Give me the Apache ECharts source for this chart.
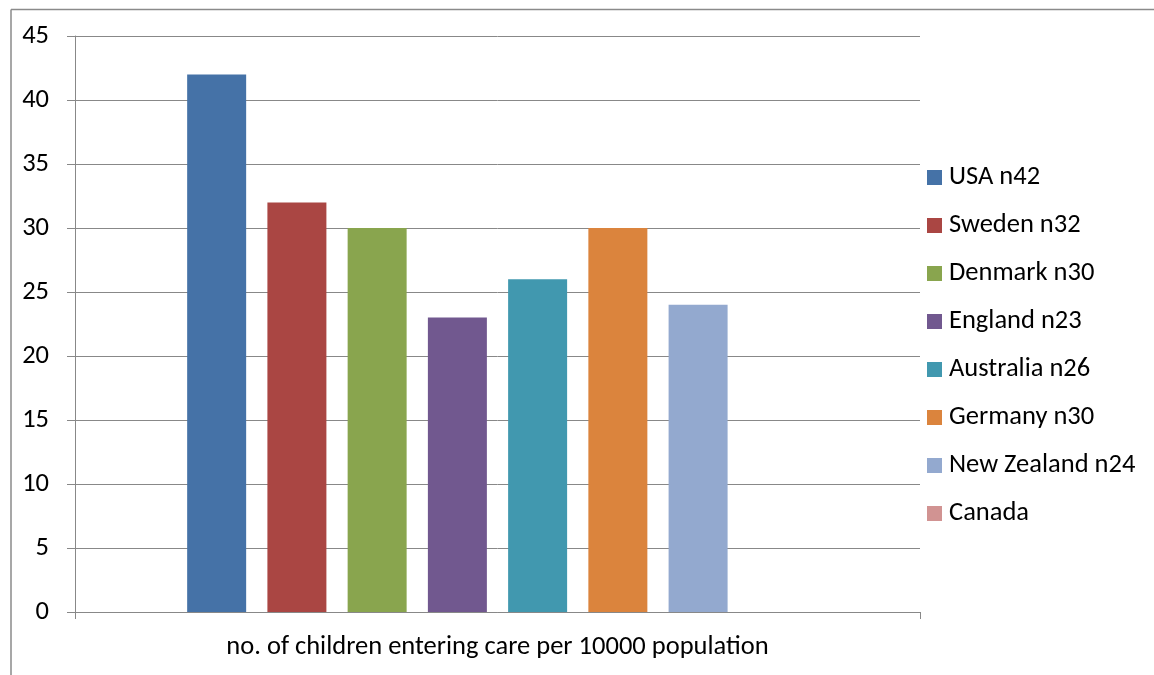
<!DOCTYPE html>
<html>
<head>
<meta charset="utf-8">
<script src="https://cdn.jsdelivr.net/npm/echarts@6/dist/echarts.min.js"></script>
<style>html,body{margin:0;padding:0;background:#fff;}#c{width:1154px;height:675px;}</style>
</head>
<body>
<div id="c"></div>
<script>
const categories = ['no. of children entering care per 10000 population'];
const seriesNames = ['USA n42','Sweden n32','Denmark n30','England n23','Australia n26','Germany n30','New Zealand n24','Canada'];
const seriesValues = [42, 32, 30, 23, 26, 30, 24, null];
const seriesColors = ['#4572A7','#AA4643','#89A54E','#71588F','#4198AF','#DB843D','#93A9CF','#D19392'];
const yTicks = { min: 0, max: 45, interval: 5 };

const FONT = 'Carlito, "Open Sans", sans-serif';
const FS = 26.5;
const chart = echarts.init(document.getElementById('c'), null, { renderer: 'canvas' });
chart.setOption({
  animation: false,
  backgroundColor: '#ffffff',
  textStyle: { fontFamily: FONT },
  graphic: [
    { type: 'line', shape: { x1: 11, y1: 9.5, x2: 1154, y2: 9.5 }, style: { stroke: '#8a8a8a', lineWidth: 1.5 } },
    { type: 'line', shape: { x1: 11, y1: 9.5, x2: 11, y2: 675 }, style: { stroke: '#8a8a8a', lineWidth: 1.5 } }
  ],
  grid: { left: 75, right: 234, top: 36, bottom: 63, containLabel: false },
  legend: {
    orient: 'vertical', left: 922, top: 159,
    itemWidth: 15, itemHeight: 15, itemGap: 21,
    icon: 'rect',
    textStyle: { fontFamily: FONT, fontSize: FS, color: '#000', lineHeight: 26, padding: [0,0,0,2] },
    data: seriesNames
  },
  xAxis: {
    type: 'category', data: categories,
    axisLine: { lineStyle: { color: '#888', width: 1 } },
    axisTick: { show: true, length: 7, lineStyle: { color: '#888' } },
    axisLabel: { fontFamily: FONT, fontSize: FS, color: '#000', margin: 22 },
    splitLine: { show: false }
  },
  yAxis: {
    type: 'value', min: yTicks.min, max: yTicks.max, interval: yTicks.interval,
    axisLine: { show: true, lineStyle: { color: '#888', width: 1 } },
    axisTick: { show: true, length: 8, lineStyle: { color: '#888' } },
    axisLabel: { fontFamily: FONT, fontSize: FS, color: '#000', margin: 26 },
    splitLine: { show: true, lineStyle: { color: '#888', width: 1 } }
  },
  series: seriesNames.map((name, i) => ({
    name: name, type: 'bar', data: [seriesValues[i]],
    barWidth: 59, barGap: '36%',
    itemStyle: { color: seriesColors[i] }
  }))
});
</script>
</body>
</html>
